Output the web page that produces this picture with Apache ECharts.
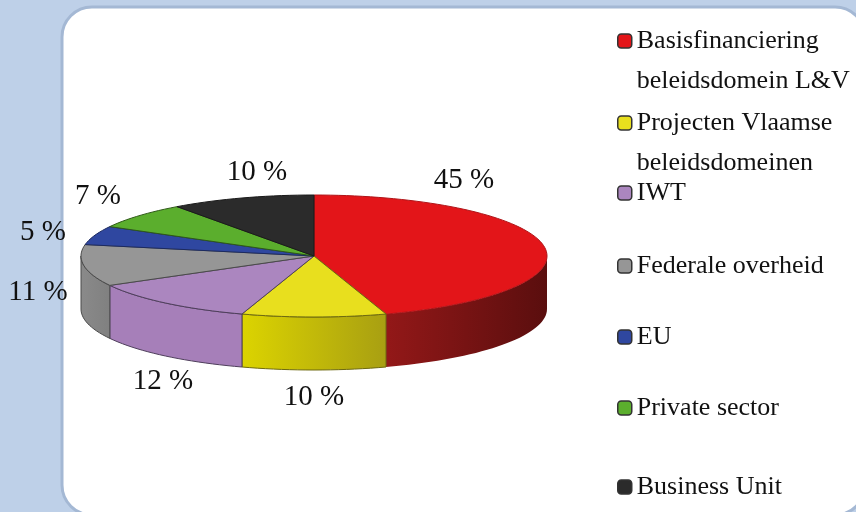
<!DOCTYPE html>
<html>
<head>
<meta charset="utf-8">
<style>
  html, body { margin: 0; padding: 0; background: #bed0e8; }
  #chart { width: 856px; height: 512px; }
</style>
<script src="https://cdn.jsdelivr.net/npm/echarts@6/dist/echarts.min.js"></script>
</head>
<body>
<div id="chart"></div>
<script>
const categories = [
  'Basisfinanciering\nbeleidsdomein L&V',
  'Projecten Vlaamse\nbeleidsdomeinen',
  'IWT',
  'Federale overheid',
  'EU',
  'Private sector',
  'Business Unit'
];
const values = [45, 10, 12, 11, 5, 7, 10];

const topColors = ['#e31519', '#e8df1e', '#ab86bf', '#969696', '#2f47a0', '#5bae2d', '#2b2b2b'];
const sideColorsA = ['#931818', '#dcd400', '#a67fb9', '#8a8a8a', '#2f47a0', '#5bae2d', '#2b2b2b'];
const sideColorsB = ['#5a0e0e', '#a89f12', '#a67fb9', '#808080', '#2f47a0', '#5bae2d', '#2b2b2b'];
const edgeColors = ['#b01418', '#6e6a10', '#4f3f5c', '#4a4a4a', '#1c2a60', '#2f5a18', '#1a1a1a'];

// label centres and legend rows, in page pixels
const labelX = [464, 314, 163, 38, 43, 98, 257];
const labelY = [180, 397, 381, 292, 232, 196, 172];
const legendTop = [-19, 63, 173, 246, 317, 388, 467];

const cx = 314, cy = 256, rx = 233, ry = 61, depth = 53;
const total = values.reduce((a, b) => a + b, 0);
const serif = '"Liberation Serif", serif';

function pt(deg, dy) {
  const t = deg * Math.PI / 180;
  return [cx + rx * Math.sin(t), cy - ry * Math.cos(t) + (dy || 0)];
}

function arc(from, to, dy) {
  const pts = [];
  const n = Math.max(2, Math.ceil((to - from) / 2));
  for (let i = 0; i <= n; i++) pts.push(pt(from + (to - from) * i / n, dy));
  return pts;
}

function renderSlice(idx) {
  let start = 0;
  for (let i = 0; i < idx; i++) start += values[i] / total * 360;
  const end = start + values[idx] / total * 360;
  const children = [];

  // only the front half of the rim can be seen
  const a = Math.max(start, 90), b = Math.min(end, 270);
  if (b > a) {
    const upper = arc(a, b, 0);
    const lower = arc(a, b, depth).reverse();
    children.push({
      type: 'polygon',
      shape: { points: upper.concat(lower) },
      style: {
        fill: new echarts.graphic.LinearGradient(0, 0, 1, 0, [
          { offset: 0, color: sideColorsA[idx] },
          { offset: 1, color: sideColorsB[idx] }
        ]),
        stroke: edgeColors[idx],
        lineWidth: idx === 0 ? 0 : 1
      }
    });
  }

  children.push({
    type: 'polygon',
    shape: { points: [[cx, cy]].concat(arc(start, end, 0)) },
    style: { fill: topColors[idx], stroke: edgeColors[idx], lineWidth: 1 }
  });

  children.push({
    type: 'text',
    style: {
      text: values[idx] + ' %',
      x: labelX[idx],
      y: labelY[idx],
      align: 'center',
      verticalAlign: 'middle',
      fill: '#111',
      font: '29px ' + serif
    }
  });

  return { type: 'group', children: children };
}

const chart = echarts.init(document.getElementById('chart'));
chart.setOption({
  backgroundColor: '#bed0e8',
  animation: false,
  graphic: [{
    type: 'rect',
    z: -1,
    shape: { x: 62, y: 7, width: 803, height: 508, r: 30 },
    style: { fill: '#fff', stroke: '#a4b8d4', lineWidth: 3 }
  }],
  legend: categories.map((name, i) => ({
    left: 617,
    top: legendTop[i],
    padding: 0,
    orient: 'vertical',
    data: [name],
    icon: 'roundRect',
    itemWidth: 14,
    itemHeight: 14,
    selectedMode: false,
    itemStyle: { borderColor: '#333', borderWidth: 1.5 },
    // blank first line keeps the swatch level with the name's first line
    formatter: n => (n.indexOf('\n') >= 0 ? ' \n' + n : n),
    textStyle: {
      color: '#111',
      fontFamily: serif,
      fontSize: 26,
      lineHeight: 40
    }
  })),
  series: categories.map((name, i) => ({
    name: name,
    type: 'custom',
    coordinateSystem: 'none',
    silent: true,
    itemStyle: { color: topColors[i] },
    data: [values[i]],
    renderItem: () => renderSlice(i)
  }))
});
</script>
</body>
</html>
